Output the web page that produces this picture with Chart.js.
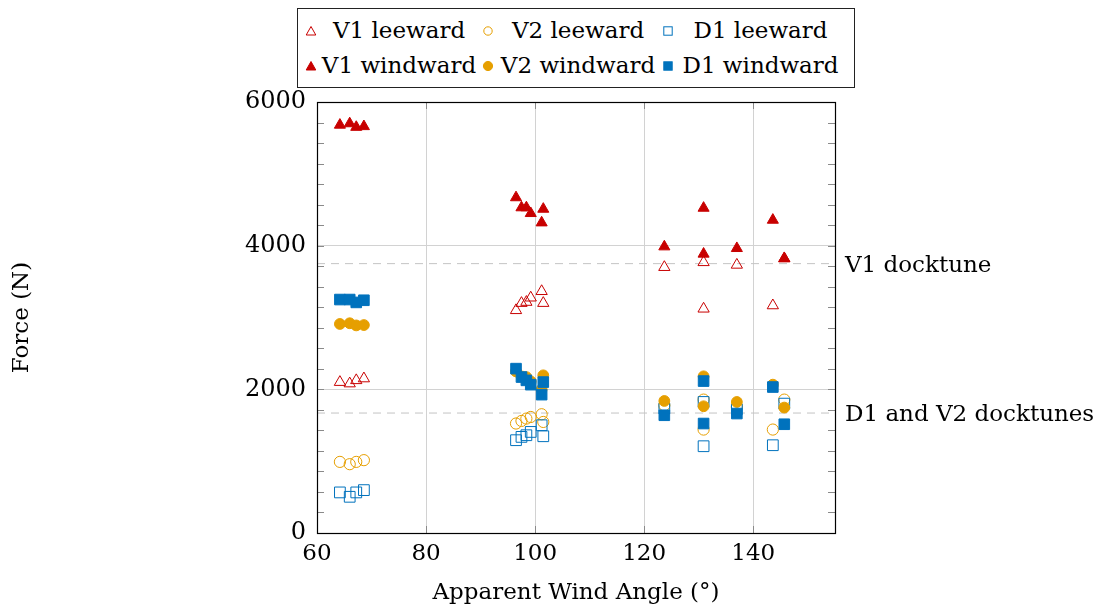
<!DOCTYPE html>
<html>
<head>
<meta charset="utf-8">
<script src="https://cdn.jsdelivr.net/npm/chart.js@4.4.1/dist/chart.umd.min.js"></script>
<style>
  html, body { margin: 0; padding: 0; background: #fff; }
  #wrap { position: relative; width: 1110px; height: 613px; font-family: 'DejaVu Serif', serif; color: #000; }
  #chart { position: absolute; left: 0; top: 0; }
  #legend {
    position: absolute; left: 297px; top: 8px; width: 558px; height: 80px;
    box-sizing: border-box; border: 1px solid #222; background: #fff;
    padding: 4px 0 0 4px; font-size: 23px; line-height: 1;
    display: grid; grid-template-columns: 18px 158px 20px 160px 20px 165px;
    grid-template-rows: 35px 35px; align-items: center;
  }
  #legend .mk { display: flex; justify-content: center; align-items: center; }
  #legend .tx { text-align: center; white-space: nowrap; }
  .dock { position: absolute; font-size: 23px; line-height: 1; white-space: nowrap; transform: translateY(-50%); }
</style>
</head>
<body>
<div id="wrap">
  <canvas id="chart" width="1110" height="613"></canvas>
  <div id="legend"></div>
</div>
<script>
// ---------------- data ----------------
const seriesNames = ['V1 leeward', 'V2 leeward', 'D1 leeward', 'V1 windward', 'V2 windward', 'D1 windward'];
// apparent wind angle of each run (deg)
const angles = [64.2, 66.0, 67.2, 68.6, 96.5, 97.5, 98.4, 99.2, 101.2, 101.5, 123.7, 130.9, 130.9, 137.0, 143.6, 145.7];
// forces (N)
const v1Leeward  = [2100, 2080, 2125, 2150, 3100, 3200, 3215, 3275, 3365, 3200, 3700, 3768, 3121, 3732, 3167, 3820];
const v2Leeward  = [990, 958, 990, 1014, 1524, 1560, 1593, 1615, 1653, 1546, 1778, 1857, 1440, 1754, 1440, 1857];
const d1Leeward  = [565, 504, 565, 597, 1292, 1338, 1361, 1407, 1500, 1347, 1732, 1824, 1208, 1722, 1222, 1801];
const v1Windward = [5680, 5700, 5650, 5660, 4670, 4530, 4530, 4450, 4320, 4510, 3986, 4524, 3885, 3963, 4357, 3824];
const v2Windward = [2910, 2920, 2890, 2895, 2250, 2180, 2170, 2110, 2000, 2195, 1838, 2181, 1764, 1824, 2065, 1746];
const d1Windward = [3250, 3250, 3210, 3240, 2288, 2171, 2125, 2065, 1926, 2101, 1639, 2115, 1524, 1663, 2032, 1514];
const docktuneForces = [3750, 1670];
const docktuneLabels = ['V1 docktune', 'D1 and V2 docktunes'];
const xTickValues = [60, 80, 100, 120, 140];
const yTickValues = [0, 2000, 4000, 6000];
const xTitle = 'Apparent Wind Angle (°)';
const yTitle = 'Force (N)';

// ---------------- styles ----------------
const RED = '#c80000', ORANGE = '#e69f00', BLUE = '#0072bd';
const seriesStyles = [
  { color: RED,    shape: 'triangle', filled: false, r: 6.5 },
  { color: ORANGE, shape: 'circle',   filled: false, r: 5.6 },
  { color: BLUE,   shape: 'rect',     filled: false, r: 7.6 },
  { color: RED,    shape: 'triangle', filled: true,  r: 6.4 },
  { color: ORANGE, shape: 'circle',   filled: true,  r: 5.4 },
  { color: BLUE,   shape: 'rect',     filled: true,  r: 7.5 }
];
const seriesValues = [v1Leeward, v2Leeward, d1Leeward, v1Windward, v2Windward, d1Windward];

Chart.defaults.font.family = "'DejaVu Serif', serif";
Chart.defaults.font.size = 23;
Chart.defaults.color = '#000';

const X_MIN = 60, X_MAX = 155, Y_MIN = 0, Y_MAX = 6000;

const datasets = seriesNames.map((name, i) => {
  const s = seriesStyles[i];
  return {
    type: 'scatter',
    label: name,
    data: seriesValues[i].map((v, k) => ({ x: angles[k], y: v })),
    pointStyle: s.shape,
    pointRadius: s.r,
    pointHoverRadius: s.r,
    borderWidth: 1,
    pointBorderWidth: 1,
    borderColor: s.color,
    backgroundColor: s.filled ? s.color : 'rgba(0,0,0,0)',
    order: 5 - i
  };
});
docktuneForces.forEach((f, i) => {
  datasets.push({
    type: 'line',
    label: docktuneLabels[i],
    data: [{ x: X_MIN, y: f }, { x: X_MAX, y: f }],
    borderColor: '#c4c4c4',
    borderWidth: 1,
    borderDash: [8, 6],
    pointRadius: 0,
    fill: false,
    order: 20
  });
});

const framePlugin = {
  id: 'frame',
  beforeDatasetsDraw(chart) {
    const { ctx, chartArea: a, scales: { x, y } } = chart;
    ctx.save();
    ctx.strokeStyle = '#8a8a8a';
    ctx.lineWidth = 1;
    const TL = 7;
    ctx.beginPath();
    for (let j = 0; j < yTickValues.length - 1; j++) {
      const v0 = yTickValues[j], v1 = yTickValues[j + 1];
      for (let m = 0; m < 7; m++) {
        const py = Math.round(y.getPixelForValue(v0 + (v1 - v0) * m / 7)) + 0.5;
        ctx.moveTo(a.left, py); ctx.lineTo(a.left + TL, py);
        ctx.moveTo(a.right, py); ctx.lineTo(a.right - TL, py);
      }
    }
    xTickValues.forEach(v => {
      const px = Math.round(x.getPixelForValue(v)) + 0.5;
      ctx.moveTo(px, a.bottom); ctx.lineTo(px, a.bottom - TL);
      ctx.moveTo(px, a.top); ctx.lineTo(px, a.top + TL);
    });
    ctx.stroke();
    ctx.restore();
  },
  afterDraw(chart) {
    const { ctx, chartArea: a } = chart;
    ctx.save();
    ctx.strokeStyle = '#000';
    ctx.lineWidth = 1.2;
    ctx.strokeRect(Math.round(a.left) + 0.5, Math.round(a.top) + 0.5,
                   Math.round(a.right - a.left), Math.round(a.bottom - a.top));
    ctx.restore();
  }
};

const chart = new Chart(document.getElementById('chart'), {
  type: 'scatter',
  data: { datasets },
  options: {
    responsive: false,
    animation: false,
    devicePixelRatio: 1,
    layout: { padding: { top: 102, right: 275, bottom: 0, left: 0 } },
    plugins: { legend: { display: false }, tooltip: { enabled: false } },
    scales: {
      x: {
        type: 'linear', min: X_MIN, max: X_MAX,
        afterFit: s => { s.height = 80; },
        afterBuildTicks: s => { s.ticks = xTickValues.map(v => ({ value: v })); },
        ticks: { padding: 7, callback: v => String(v), maxRotation: 0, autoSkip: false, includeBounds: false },
        grid: { color: '#d2d2d2', drawTicks: false, lineWidth: 1 },
        border: { display: false },
        title: { display: true, text: xTitle, padding: { top: 0, bottom: 6 }, font: { size: 23 } }
      },
      y: {
        type: 'linear', min: Y_MIN, max: Y_MAX,
        afterFit: s => { s.width = 317; },
        afterBuildTicks: s => { s.ticks = yTickValues.map(v => ({ value: v })); },
        ticks: { padding: 11, callback: v => String(v), autoSkip: false, font: { size: 24 } },
        grid: { color: '#d2d2d2', drawTicks: false, lineWidth: 1 },
        border: { display: false },
        title: { display: true, text: yTitle, padding: { top: 8, bottom: 0 }, font: { size: 23 } }
      }
    }
  },
  plugins: [framePlugin]
});

// ---------------- legend (HTML) ----------------
function markerSVG(s) {
  const c = s.color, f = s.filled ? c : 'none';
  let shape;
  if (s.shape === 'triangle') shape = `<polygon points="6,1.5 10.8,10 1.2,10" fill="${f}" stroke="${c}" stroke-width="1"/>`;
  else if (s.shape === 'circle') shape = `<circle cx="6" cy="6" r="${s.filled ? 4.6 : 4.2}" fill="${f}" stroke="${c}" stroke-width="1"/>`;
  else shape = `<rect x="1.8" y="1.8" width="8.4" height="8.4" fill="${f}" stroke="${c}" stroke-width="1"/>`;
  return `<svg width="12" height="12" viewBox="0 0 12 12">${shape}</svg>`;
}
const legend = document.getElementById('legend');
seriesNames.forEach((name, i) => {
  const mk = document.createElement('div');
  mk.className = 'mk';
  mk.innerHTML = markerSVG(seriesStyles[i]);
  const tx = document.createElement('div');
  tx.className = 'tx';
  tx.textContent = name;
  legend.appendChild(mk);
  legend.appendChild(tx);
});

// ---------------- docktune labels ----------------
const wrap = document.getElementById('wrap');
docktuneForces.forEach((f, i) => {
  const el = document.createElement('div');
  el.className = 'dock';
  el.textContent = docktuneLabels[i];
  el.style.left = (chart.chartArea.right + 10) + 'px';
  el.style.top = chart.scales.y.getPixelForValue(f) + 'px';
  wrap.appendChild(el);
});
</script>
</body>
</html>
